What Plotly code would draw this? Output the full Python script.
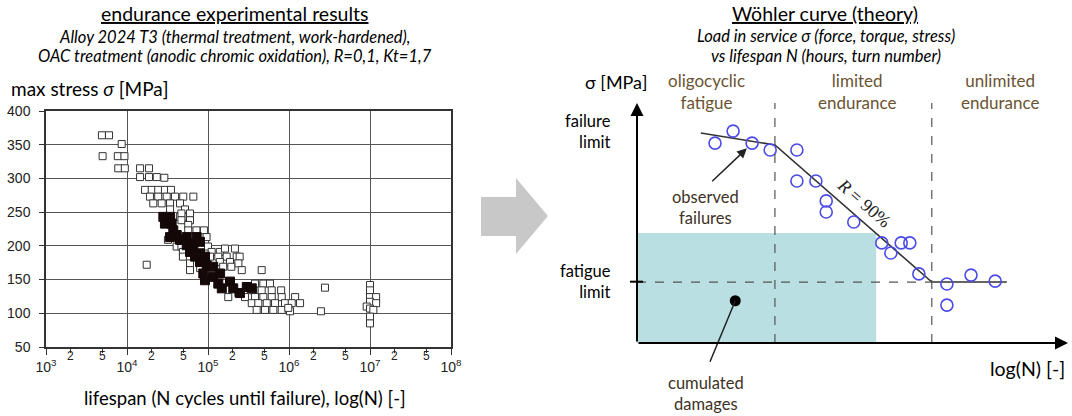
import plotly.graph_objects as go
import numpy as np

W, H = 1072, 416

# ---------------- Left chart data (experimental results) ----------------
open_N = [4.9e3, 6.0e3, 8.6e3, 5.0e3, 7.7e3, 9.3e3, 7.8e3, 9.4e3, 1.45e4, 1.87e4,
          1.45e4, 1.87e4, 2.33e4, 2.89e4, 1.67e4, 2.02e4, 2.43e4, 2.94e4, 3.49e4,
          1.92e4, 2.43e4, 3.09e4, 3.92e4, 4.95e4, 6.59e4, 2.11e4, 2.68e4, 3.40e4, 4.51e4,
          3.40e4, 5.20e4, 4.5e4, 5.7e4, 4.7e4, 6.0e4, 4.7e4, 6.0e4, 5.7e4, 5.7e4, 7.2e4,
          8.9e4, 9.6e4, 3.2e4, 1.75e4, 4.1e4, 4.7e4, 1.0e5, 4.9e4, 1.11e5, 1.40e5, 1.62e5,
          2.15e5, 4.9e4, 1.06e5, 1.34e5, 1.70e5, 2.26e5, 2.46e5, 6.0e4, 1.40e5, 1.87e5,
          2.37e5, 6.0e4, 8.0e4, 1.54e5, 1.94e5, 2.61e5, 4.6e5, 3.8e5, 4.82e5, 5.82e5,
          3.62e5, 4.6e5, 6.12e5, 8.0e5, 1.78e5, 2.37e5, 2.86e5, 3.8e5, 4.82e5, 6.12e5,
          8.13e5, 1.19e6, 3.47e5, 4.18e5, 5.31e5, 6.72e5, 8.93e5, 1.08e6, 1.37e6, 3.99e5,
          5.06e5, 6.41e5, 8.13e5, 1.03e6, 9.8e5, 2.78e6, 2.48e6, 1.0e7, 1.0e7, 1.0e7,
          1.19e7, 1.0e7, 1.19e7, 9.1e6, 1.0e7, 1.1e7, 1.0e7, 1.0e7]
open_S = [364, 364, 351, 333, 333, 333, 315, 315, 315, 315,
          302, 302, 302, 301, 283, 283, 283, 283, 283,
          273, 273, 273, 273, 273, 273, 263, 263, 263, 263,
          254, 254, 243, 243, 248, 248, 238, 238, 231, 223, 223,
          223, 213, 209, 172, 199, 199, 199, 191, 191, 191, 196,
          196, 184, 184, 184, 184, 184, 184, 174, 176, 176,
          174, 164, 167, 169, 169, 164, 164, 144, 144, 144,
          134, 134, 134, 134, 124, 130, 124, 124, 124, 124,
          124, 124, 115, 115, 115, 115, 115, 115, 115, 105,
          105, 105, 105, 103, 108, 138, 103, 142, 134, 124,
          124, 117, 115, 110, 107, 105, 95, 85]

black_N = [2.81e4, 3.40e4, 2.94e4, 3.56e4, 3.73e4, 4.11e4, 4.73e4, 5.46e4, 6.30e4,
           7.24e4, 7.96e4, 6.59e4, 7.96e4, 9.18e4, 9.64e4, 1.16e5, 3.40e4, 4.51e4,
           5.46e4, 6.00e4, 6.92e4, 7.96e4, 8.75e4, 9.18e4, 1.16e5, 1.34e5, 1.48e5,
           1.87e5, 2.05e5, 2.48e5, 3.01e5, 3.47e5, 1.41e5]
black_S = [243, 243, 233, 233, 223, 216, 209, 213, 204,
           213, 206, 194, 189, 184, 171, 169, 213, 209,
           201, 191, 184, 176, 159, 149, 154, 144, 137,
           147, 137, 130, 139, 137, 159]

y_ticks = [50, 100, 150, 200, 250, 300, 350, 400]
x_decades = [1e3, 1e4, 1e5, 1e6, 1e7, 1e8]
decade_labels = ["10<sup>3</sup>", "10<sup>4</sup>", "10<sup>5</sup>",
                 "10<sup>6</sup>", "10<sup>7</sup>", "10<sup>8</sup>"]
minor_vals = [2e3, 5e3, 2e4, 5e4, 2e5, 5e5, 2e6, 5e6, 2e7, 5e7]
minor_labels = ["2", "5", "2", "5", "2", "5", "2", "5", "2", "5"]

# ---------------- Right chart data (theory, arbitrary units) ----------------
obs_logN = [1.81, 2.23, 2.67, 3.09, 3.71, 3.71, 4.15, 4.39, 4.39, 5.03,
            5.68, 5.89, 6.13, 6.33, 6.54, 7.19, 7.19, 7.75, 8.31]
obs_S = [8.33, 8.83, 8.33, 8.04, 8.04, 6.75, 6.75, 5.92, 5.46, 5.04,
         4.17, 3.75, 4.17, 4.17, 2.88, 2.46, 1.58, 2.83, 2.58]
curve_logN = [1.48, 3.20, 6.84, 8.58]
curve_S = [8.75, 8.25, 2.54, 2.54]
fatigue_limit = 2.54
zone_bounds = [3.20, 6.84]
damage_logN, damage_S = 5.55, 4.58
damage_point = (2.28, 1.76)


def P(px, py):
    return px / W, 1 - py / H


FONT = "Lato"
fig = go.Figure()

fig.add_trace(go.Scatter(x=open_N, y=open_S, mode="markers", xaxis="x", yaxis="y",
                         marker=dict(symbol="square", size=7, color="white",
                                     line=dict(color="#333", width=1)),
                         hoverinfo="skip", showlegend=False))
fig.add_trace(go.Scatter(x=black_N, y=black_S, mode="markers", xaxis="x", yaxis="y",
                         marker=dict(symbol="square", size=9, color="#140808",
                                     line=dict(color="#140808", width=1)),
                         hoverinfo="skip", showlegend=False))

fig.add_trace(go.Scatter(x=curve_logN, y=curve_S, mode="lines", xaxis="x2", yaxis="y2",
                         line=dict(color="#333", width=1.6), hoverinfo="skip",
                         showlegend=False))
fig.add_trace(go.Scatter(x=obs_logN, y=obs_S, mode="markers", xaxis="x2", yaxis="y2",
                         marker=dict(symbol="circle-open", size=12, color="#4b4be6",
                                     line=dict(width=1.6)),
                         hoverinfo="skip", showlegend=False))
fig.add_trace(go.Scatter(x=[damage_point[0]], y=[damage_point[1]], mode="markers",
                         xaxis="x2", yaxis="y2",
                         marker=dict(symbol="circle", size=11, color="black"),
                         hoverinfo="skip", showlegend=False))

shapes = []
shapes.append(dict(type="rect", xref="x2", yref="y2", x0=0, x1=damage_logN, y0=0,
                   y1=damage_S, fillcolor="#b9dfe2", line=dict(width=0), layer="below"))
for xb in zone_bounds:
    shapes.append(dict(type="line", xref="x2", yref="y2", x0=xb, x1=xb, y0=0, y1=10,
                       line=dict(color="#555", width=1.2, dash="dash")))
shapes.append(dict(type="line", xref="x2", yref="y2", x0=0, x1=zone_bounds[1],
                   y0=fatigue_limit, y1=fatigue_limit,
                   line=dict(color="#555", width=1.2, dash="dash")))
fy = 1 - 281.7 / H
shapes.append(dict(type="line", xref="paper", yref="paper", x0=630 / W, x1=643 / W,
                   y0=fy, y1=fy, line=dict(color="black", width=2)))
a0, b0 = P(710, 361.7)
a1, b1 = P(735.3, 300.7)
shapes.append(dict(type="line", xref="paper", yref="paper", x0=a0, y0=b0, x1=a1, y1=b1,
                   line=dict(color="#222", width=1.5)))
pts = [(481, 197), (516, 197), (516, 178), (548, 216), (516, 254), (516, 236), (481, 236)]
path = "M " + " L ".join("%.5f,%.5f" % P(x, y) for x, y in pts) + " Z"
shapes.append(dict(type="path", xref="paper", yref="paper", path=path,
                   fillcolor="#c8c8c8", line=dict(width=0)))

ann = []


def txt(text, px, py, size, color="black", xanchor="center", align="center",
        family=FONT, angle=0):
    x, y = P(px, py)
    ann.append(dict(text=text, x=x, y=y, xref="paper", yref="paper", showarrow=False,
                    xanchor=xanchor, yanchor="middle", align=align, textangle=angle,
                    font=dict(family=family, size=size, color=color)))


txt("<u>endurance experimental results</u>", 235, 14, 19.5)
txt("<i>Alloy 2024 T3 (thermal treatment, work-hardened),</i>", 235, 37, 16.5)
txt("<i>OAC treatment (anodic chromic oxidation), R=0,1, Kt=1,7</i>", 235, 56, 16.5)
txt("max stress <i>σ</i> [MPa]", 9, 88, 19, xanchor="left")
txt("lifespan (N cycles until failure), log(N) [-]", 245, 398, 18.5)

txt("<u>Wöhler curve (theory)</u>", 825, 14, 19.5)
txt("<i>Load in service σ (force, torque, stress)</i>", 826, 36, 16.5)
txt("<i>vs lifespan N (hours, turn number)</i>", 826, 56, 16.5)
txt("σ [MPa]", 583, 82, 18, xanchor="left")
txt("failure<br>limit", 613, 131, 16.5, xanchor="right", align="right")
txt("fatigue<br>limit", 613, 281, 16.5, xanchor="right", align="right")
txt("log(N) [-]", 1067, 368, 19.5, xanchor="right")
brown = "#6b5332"
txt("oligocyclic<br>fatigue", 706, 91, 17, color=brown)
txt("limited<br>endurance", 857, 91, 17, color=brown)
txt("unlimited<br>endurance", 1000, 91, 17, color=brown)
txt("observed<br>failures", 705, 207, 16.5, color="#3d3226")
txt("cumulated<br>damages", 706, 393, 16.5, color="#3d3226")
txt("<i>R</i> = 90%", 864, 203, 18, color="#222", family="Liberation Serif", angle=41)

for v, lab in zip(minor_vals, minor_labels):
    ann.append(dict(text=lab, x=np.log10(v), y=1 - 356 / H, xref="x", yref="paper",
                    showarrow=False, xanchor="center", yanchor="middle",
                    font=dict(family="Liberation Sans", size=12, color="#222")))

ann.append(dict(x=0, y=10, ax=0, ay=0, xref="x2", yref="y2", axref="x2", ayref="y2",
                text="", showarrow=True, arrowhead=2, arrowsize=1.3, arrowwidth=2,
                arrowcolor="black"))
ann.append(dict(x=10, y=0, ax=0, ay=0, xref="x2", yref="y2", axref="x2", ayref="y2",
                text="", showarrow=True, arrowhead=2, arrowsize=1.3, arrowwidth=2,
                arrowcolor="black"))
ann.append(dict(x=2.55, y=8.11, ax=1.71, ay=6.68, xref="x2", yref="y2", axref="x2",
                ayref="y2", text="", showarrow=True, arrowhead=2, arrowsize=1.3,
                arrowwidth=1.5, arrowcolor="#222"))

fig.update_layout(
    width=W, height=H, margin=dict(l=0, r=0, t=0, b=0, autoexpand=False),
    paper_bgcolor="white", plot_bgcolor="white", showlegend=False,
    shapes=shapes, annotations=ann,
    xaxis=dict(domain=[46 / W, 451 / W], type="log", range=[3, 8], anchor="y",
               automargin=False,
               tickvals=x_decades, ticktext=decade_labels, showgrid=True,
               gridcolor="#555", gridwidth=1, showline=True, mirror=True,
               linecolor="#333", linewidth=1.5, ticks="outside", ticklen=6,
               tickcolor="#333", zeroline=False,
               tickfont=dict(family="Liberation Sans", size=14, color="#222"),
               minor=dict(tickvals=minor_vals, ticks="outside", ticklen=4,
                          tickcolor="#333", showgrid=False)),
    yaxis=dict(domain=[1 - 347 / H, 1 - 111 / H], range=[50, 400], anchor="x",
               automargin=False, ticklabelstandoff=6,
               tickvals=y_ticks, showgrid=True, gridcolor="#555", gridwidth=1,
               showline=True, mirror=True, linecolor="#333", linewidth=1.5,
               ticks="outside", ticklen=5, tickcolor="#333", zeroline=False,
               tickfont=dict(family="Liberation Sans", size=14, color="#222")),
    xaxis2=dict(domain=[637 / W, 1068 / W], range=[0, 10], anchor="y2",
                automargin=False, visible=False),
    yaxis2=dict(domain=[1 - 343 / H, 1 - 103 / H], range=[0, 10], anchor="x2",
                automargin=False, visible=False),
)

fig.write_html("out.html", config={"displayModeBar": False},
               post_script="document.body.style.margin='0';"
                           "document.body.style.overflow='hidden';")
